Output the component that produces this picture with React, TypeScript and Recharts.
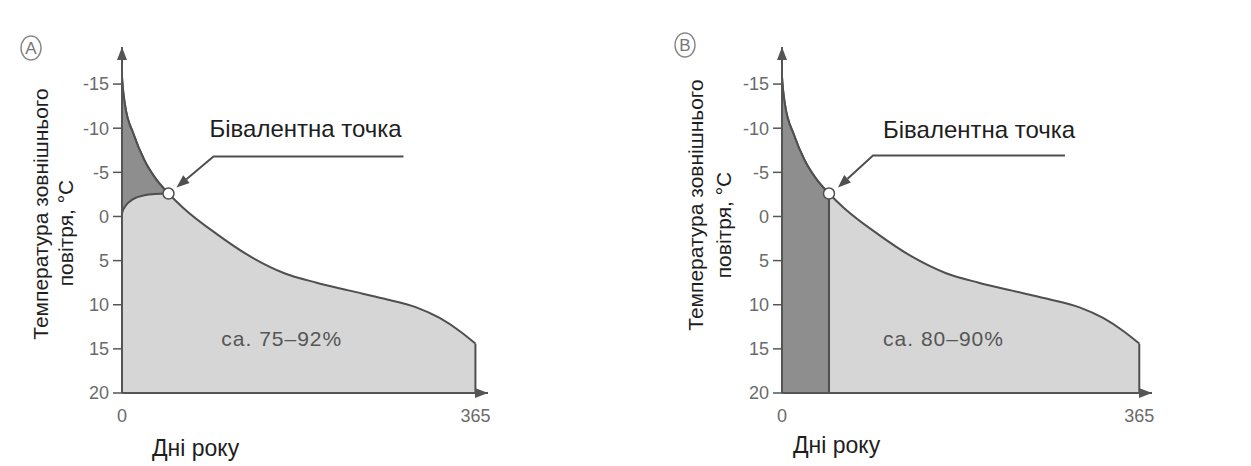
import { ComposedChart, Area, XAxis, YAxis, ReferenceDot, ReferenceLine } from 'recharts'

// day of year vs outdoor temperature (annual duration curve)
const days = [0, 1, 3, 12, 23, 34, 48, 63, 98, 132, 167, 201, 235, 270, 304, 328, 349, 365]
const outdoorTemp = [-15.8, -14.4, -12.7, -9.3, -6.4, -4.4, -2.6, -1.0, 2.0, 4.5, 6.4, 7.5, 8.4, 9.3, 10.3, 11.5, 13.0, 14.4]
// lower edge of the dark band in panel A, days 0..48
const pumpLimit = [-0.3, -0.7, -1.1, -2.0, -2.4, -2.55, -2.6]

const bivalent = { day: 48, temp: -2.6 }
const yTicks = [-15, -10, -5, 0, 5, 10, 15, 20]
const xTicks = [0, 365]
const shareText = ['ca. 75–92%', 'ca. 80–90%']
const sharePos = { day: 165, temp: 13.8 }

const LIGHT = '#d6d6d6'
const DARK = '#8e8e8e'
const LINE = '#4f4f4f'
const AXIS = '#555555'
const TICK = '#6b6b6b'

const rows = days.map((d, i) => ({
  day: d,
  temp: outdoorTemp[i],
  band: i < pumpLimit.length ? [pumpLimit[i], outdoorTemp[i]] : undefined,
  early: d <= bivalent.day ? outdoorTemp[i] : undefined,
}))

interface PanelCfg {
  kind: 'A' | 'B'
  left: number
  width: number
  margin: { top: number; right: number; bottom: number; left: number }
  letter: { x: number; y: number }
  yLab: { dx1: number; dy1: number; dx2: number; dy2: number }
  xLab: { dx: number; dy: number }
  note: { tx: number; ty: number; lx1: number; lx2: number; ly: number; ax: number; ay: number }
  share: string
}

const panels: PanelCfg[] = [
  {
    kind: 'A',
    left: 0,
    width: 620,
    margin: { top: 47, right: 132, bottom: 43, left: 62 },
    letter: { x: 31, y: 48 },
    yLab: { dx1: 82, dy1: -6, dx2: 57, dy2: 13 },
    xLab: { dx: 30, dy: 55 },
    note: { tx: 41, ty: -57, lx1: 45, lx2: 235, ly: -37, ax: 8, ay: -6 },
    share: shareText[0],
  },
  {
    kind: 'B',
    left: 620,
    width: 631,
    margin: { top: 47, right: 99, bottom: 43, left: 102 },
    letter: { x: 65, y: 45 },
    yLab: { dx1: 87, dy1: -15, dx2: 59, dy2: 5 },
    xLab: { dx: 11, dy: 52 },
    note: { tx: 54, ty: -56, lx1: 44, lx2: 236, ly: -38, ax: 9, ay: -6 },
    share: shareText[1],
  },
]

function Panel({ cfg }: { cfg: PanelCfg }) {
  const n = cfg.note

  const noteShape = (p: any) => {
    const { cx, cy } = p
    const sx = cx + n.lx1
    const sy = cy + n.ly
    const tx = cx + n.ax
    const ty = cy + n.ay
    const len = Math.hypot(tx - sx, ty - sy)
    const ux = (tx - sx) / len
    const uy = (ty - sy) / len
    const bx = tx - ux * 13
    const by = ty - uy * 13
    return (
      <g>
        <polyline
          points={`${cx + n.lx2},${sy} ${sx},${sy} ${bx},${by}`}
          fill="none"
          stroke={LINE}
          strokeWidth={2}
        />
        <polygon
          points={`${tx},${ty} ${bx - uy * 5},${by + ux * 5} ${bx + uy * 5},${by - ux * 5}`}
          fill={LINE}
        />
        <text x={cx + n.tx} y={cy + n.ty} fontSize={24} fill="#1e1e1e">
          Бівалентна точка
        </text>
        <circle cx={cx} cy={cy} r={5.5} fill="#fff" stroke={LINE} strokeWidth={1.5} />
      </g>
    )
  }

  return (
    <div style={{ position: 'absolute', left: cfg.left, top: 0 }}>
      <svg width={30} height={30} style={{ position: 'absolute', left: cfg.letter.x - 15, top: cfg.letter.y - 15 }}>
        <ellipse cx={15} cy={15} rx={10} ry={12} fill="none" stroke="#888" strokeWidth={1.4} />
        <text x={15} y={21} textAnchor="middle" fontSize={17} fill="#777">
          {cfg.kind}
        </text>
      </svg>
      <ComposedChart width={cfg.width} height={466} data={rows} margin={cfg.margin}>
        <XAxis
          type="number"
          dataKey="day"
          domain={[0, 378]}
          ticks={xTicks}
          interval={0}
          height={30}
          tickLine={false}
          tickSize={0}
          tickMargin={16}
          axisLine={{ stroke: AXIS, strokeWidth: 2 }}
          tick={{ fill: TICK, fontSize: 18 }}
          label={{
            content: (p: any) => {
              const vb = p.viewBox
              return (
                <text x={vb.x + cfg.xLab.dx} y={vb.y + cfg.xLab.dy} dominantBaseline="central" fontSize={23} fill="#1e1e1e">
                  Дні року
                </text>
              )
            },
          }}
        />
        <YAxis
          type="number"
          reversed
          domain={[-19.2, 20]}
          allowDataOverflow
          ticks={yTicks}
          interval={0}
          width={60}
          tickSize={9}
          tickMargin={4}
          tickLine={{ stroke: AXIS, strokeWidth: 1.5 }}
          axisLine={{ stroke: AXIS, strokeWidth: 2 }}
          tick={{ fill: TICK, fontSize: 18 }}
          label={{
            content: (p: any) => {
              const vb = p.viewBox
              const ax = vb.x + vb.width
              const cy = vb.y + vb.height / 2
              const l = cfg.yLab
              return (
                <g fontSize={21} fill="#1e1e1e">
                  <text
                    transform={`translate(${ax - l.dx1}, ${cy + l.dy1}) rotate(-90)`}
                    textAnchor="middle"
                    dominantBaseline="central"
                  >
                    Температура зовнішнього
                  </text>
                  <text
                    transform={`translate(${ax - l.dx2}, ${cy + l.dy2}) rotate(-90)`}
                    textAnchor="middle"
                    dominantBaseline="central"
                  >
                    повітря, °C
                  </text>
                </g>
              )
            },
          }}
        />
        <Area
          dataKey="temp"
          type="monotone"
          baseValue={20}
          fill={LIGHT}
          fillOpacity={1}
          stroke={LINE}
          strokeWidth={2}
          isAnimationActive={false}
        />
        {cfg.kind === 'A' ? (
          <Area
            dataKey="band"
            type="monotone"
            fill={DARK}
            fillOpacity={1}
            stroke={LINE}
            strokeWidth={2}
            isAnimationActive={false}
          />
        ) : (
          <Area
            dataKey="early"
            type="monotone"
            baseValue={20}
            fill={DARK}
            fillOpacity={1}
            stroke={LINE}
            strokeWidth={2}
            isAnimationActive={false}
          />
        )}
        {cfg.kind === 'B' && (
          <ReferenceLine
            segment={[
              { x: bivalent.day, y: bivalent.temp },
              { x: bivalent.day, y: 20 },
            ]}
            stroke={LINE}
            strokeWidth={2}
          />
        )}
        <ReferenceLine
          segment={[
            { x: days[days.length - 1], y: outdoorTemp[outdoorTemp.length - 1] },
            { x: days[days.length - 1], y: 20 },
          ]}
          stroke={LINE}
          strokeWidth={2}
        />
        <ReferenceLine x={0} stroke={AXIS} strokeWidth={2} />
        <ReferenceLine y={20} stroke={AXIS} strokeWidth={2} />
        <ReferenceDot
          x={0}
          y={-19.2}
          r={0}
          shape={(p: any) => (
            <polygon points={`${p.cx},${p.cy} ${p.cx - 5},${p.cy + 13} ${p.cx + 5},${p.cy + 13}`} fill={AXIS} />
          )}
        />
        <ReferenceDot
          x={378}
          y={20}
          r={0}
          shape={(p: any) => (
            <polygon points={`${p.cx},${p.cy} ${p.cx - 13},${p.cy - 5} ${p.cx - 13},${p.cy + 5}`} fill={AXIS} />
          )}
        />
        <ReferenceDot
          x={sharePos.day}
          y={sharePos.temp}
          r={0}
          shape={(p: any) => (
            <text
              x={p.cx}
              y={p.cy}
              textAnchor="middle"
              dominantBaseline="central"
              fontSize={21}
              letterSpacing={1}
              fill="#555"
            >
              {cfg.share}
            </text>
          )}
        />
        <ReferenceDot x={bivalent.day} y={bivalent.temp} r={0} shape={noteShape} />
      </ComposedChart>
    </div>
  )
}

export default function App() {
  return (
    <div
      style={{
        position: 'absolute',
        left: 0,
        top: 0,
        width: 1251,
        height: 466,
        background: '#fff',
        fontFamily: "'Liberation Sans', Arial, sans-serif",
      }}
    >
      {panels.map((c) => (
        <Panel key={c.kind} cfg={c} />
      ))}
    </div>
  )
}
